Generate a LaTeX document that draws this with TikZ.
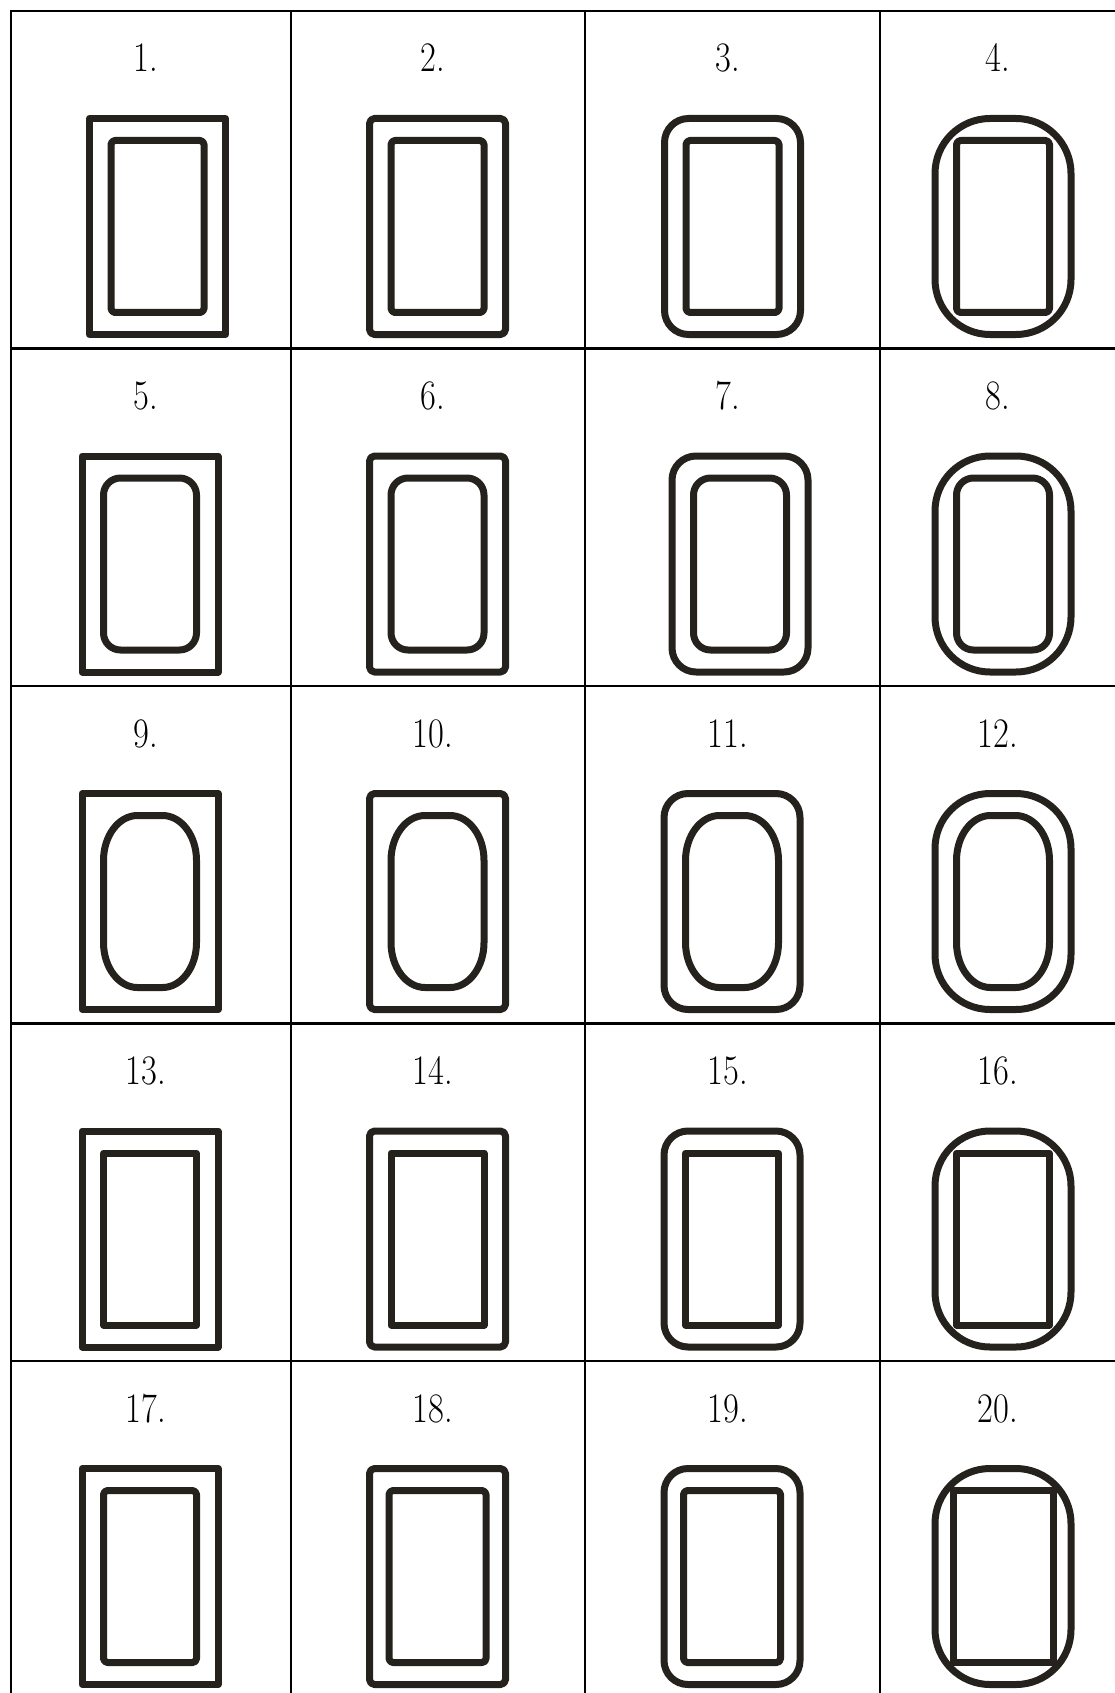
\documentclass[tikz,border=0pt]{standalone}
\usepackage{tikz}
\definecolor{ink}{HTML}{25221E}

% outer frame: centre x, centre y, corners
\newcommand{\outr}[3]{\draw[fr, #3] (#1-68,#2-108) rectangle (#1+68,#2+108);}
% inner frame: centre x, centre y, corners, half width
\newcommand{\innr}[4]{\draw[fr, #3] (#1-#4,#2-86) rectangle (#1+#4,#2+86);}
% inner frame with oval corners: centre x, centre y
\newcommand{\innoval}[2]{%
  \draw[fr] (#1-12.5,#2-86) -- (#1+12.5,#2-86)
    arc[start angle=270, end angle=360, x radius=34, y radius=45] -- (#1+46.5,#2+41)
    arc[start angle=0, end angle=90, x radius=34, y radius=45] -- (#1-12.5,#2+86)
    arc[start angle=90, end angle=180, x radius=34, y radius=45] -- (#1-46.5,#2-41)
    arc[start angle=180, end angle=270, x radius=34, y radius=45] -- cycle;
}

\begin{document}
\begin{tikzpicture}[
x=1pt, y=-1pt,
grid/.style={line width=2.2pt, black},
fr/.style={line width=7pt, draw=ink, line join=round},
num/.style={anchor=base, inner sep=0pt, font=\fontsize{42}{42}\selectfont}
]
\useasboundingbox (0,0) rectangle (1115,1693);

% table lines
\draw[grid] (11,1693) -- (11,11) -- (1115,11);
\foreach \gx in {291,585,880} \draw[grid] (\gx,11) -- (\gx,1693);
\foreach \gy in {348.5,686,1023.5,1361} \draw[grid] (11,\gy) -- (1115,\gy);

% numbers
\foreach \r in {0,...,4}
  \foreach \c/\lx in {1/146,2/433,3/728,4/998} {
    \pgfmathtruncatemacro\k{4*\r+\c}
    \node[num] (n\k) at (\lx,72+337.5*\r) {\scalebox{.82}[1]{\k.}};
  }

% row 1
\outr{157.5}{226.5}{sharp corners}   \innr{157.5}{226.5}{rounded corners=4}{46.5}
\outr{437.5}{226.5}{rounded corners=5} \innr{437.5}{226.5}{rounded corners=4}{46.5}
\outr{732.5}{226.5}{rounded corners=24} \innr{732.5}{226.5}{rounded corners=4}{46.5}
\outr{1003}{226.5}{rounded corners=55} \innr{1003}{226.5}{rounded corners=4}{46.5}
% row 2
\outr{150}{564}{sharp corners}   \innr{150}{564}{rounded corners=17}{46.5}
\outr{437.5}{564}{rounded corners=5} \innr{437.5}{564}{rounded corners=17}{46.5}
\outr{740}{564}{rounded corners=24} \innr{740}{564}{rounded corners=17}{46.5}
\outr{1003}{564}{rounded corners=55} \innr{1003}{564}{rounded corners=17}{46.5}
% row 3
\outr{150}{901.5}{sharp corners}   \innoval{150}{901.5}
\outr{437.5}{901.5}{rounded corners=5} \innoval{437.5}{901.5}
\outr{732}{901.5}{rounded corners=24} \innoval{732}{901.5}
\outr{1003}{901.5}{rounded corners=55} \innoval{1003}{901.5}
% row 4
\outr{150}{1239}{sharp corners}   \innr{150}{1239}{sharp corners}{46.5}
\outr{437.5}{1239}{rounded corners=5} \innr{437.5}{1239}{sharp corners}{46.5}
\outr{732}{1239}{rounded corners=24} \innr{732}{1239}{sharp corners}{46.5}
\outr{1003}{1239}{rounded corners=55} \innr{1003}{1239}{sharp corners}{46.5}
% row 5
\outr{150}{1576.5}{sharp corners}   \innr{150}{1576.5}{rounded corners=4}{46.5}
\outr{437.5}{1576.5}{rounded corners=5} \innr{437.5}{1576.5}{rounded corners=4}{48.5}
\outr{732}{1576.5}{rounded corners=24} \innr{732}{1576.5}{rounded corners=4}{48.5}
\outr{1003}{1576.5}{rounded corners=55} \innr{1003}{1576.5}{sharp corners}{50}
\end{tikzpicture}
\end{document}
